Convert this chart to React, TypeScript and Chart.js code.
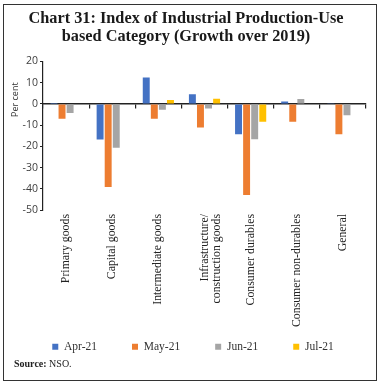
import React, { useEffect, useRef } from "react";
import { Chart, registerables } from "chart.js";

Chart.register(...registerables);

const categories: (string | string[])[] = [
  "Primary goods",
  "Capital goods",
  "Intermediate goods",
  ["Infrastructure/", "construction goods"],
  "Consumer durables",
  "Consumer non-durables",
  "General",
];
const apr21 = [0.4, -16.8, 12.5, 4.6, -14.3, 1.1, 0.1];
const may21 = [-7.0, -39.2, -7.0, -11.1, -42.9, -8.4, -14.3];
const jun21 = [-4.3, -20.6, -2.7, -2.1, -16.6, 2.3, -5.3];
const jul21 = [0, 0, 1.9, 2.4, -8.4, 0, 0];
const seriesNames = ["Apr-21", "May-21", "Jun-21", "Jul-21"];
const yTicks = [20, 10, 0, -10, -20, -30, -40, -50];
const yTitle = "Per cent";
const yTitleAt = 2; // axis value at which the y-axis title is centred

const colors = ["#4472C4", "#ED7D31", "#A5A5A5", "#FFC000"];

const LEGEND_PAD = 35;

const legendShift = {
  id: "legendShift",
  afterLayout(chart: any) {
    const l = chart.legend;
    if (l) {
      l.top += -LEGEND_PAD + 3;
      l.left += 7;
      l.right += 7;
    }
  },
};

const yTitlePlugin = {
  id: "yTitlePlugin",
  afterDraw(chart: any) {
    const y = chart.scales.y;
    const ctx = chart.ctx;
    ctx.save();
    ctx.translate(15, y.getPixelForValue(yTitleAt));
    ctx.rotate(-Math.PI / 2);
    ctx.textAlign = "center";
    ctx.textBaseline = "middle";
    ctx.fillStyle = "#333";
    ctx.font = "9px 'Open Sans', sans-serif";
    ctx.fillText(yTitle, 0, 0);
    ctx.restore();
  },
};

export default function App() {
  const ref = useRef<HTMLCanvasElement | null>(null);
  useEffect(() => {
    if (!ref.current) return;
    const data = [apr21, may21, jun21, jul21];
    const chart = new Chart(ref.current, {
      type: "bar",
      data: {
        labels: categories,
        datasets: seriesNames.map((n, i) => ({
          label: n,
          data: data[i],
          backgroundColor: colors[i],
          borderWidth: 0,
          categoryPercentage: 0.7,
          barPercentage: 0.86,
        })),
      },
      plugins: [legendShift, yTitlePlugin],
      options: {
        animation: false,
        responsive: false,
        maintainAspectRatio: false,
        layout: { padding: { left: 6, right: 16, top: 0, bottom: 22 } },
        plugins: {
          title: {
            display: true,
            text: [
              "Chart 31: Index of Industrial Production-Use",
              "based Category (Growth over 2019)",
            ],
            font: { family: "'Liberation Serif', serif", size: 16.3, weight: "bold", lineHeight: 1.15 },
            color: "#1a1a1a",
            padding: { top: 9, bottom: 15 },
          },
          legend: {
            display: true,
            position: "bottom",
            maxHeight: 24,
            labels: {
              boxWidth: 6,
              boxHeight: 6,
              padding: LEGEND_PAD,
              color: "#333",
              font: { family: "'Liberation Serif', serif", size: 11.5 },
            },
          },
          tooltip: { enabled: false },
        },
        scales: {
          x: {
            type: "category",
            offset: true,
            border: { display: false },
            grid: { display: false, drawTicks: false },
            ticks: {
              autoSkip: false,
              maxRotation: 90,
              minRotation: 90,
              padding: 4,
              color: "#222",
              font: { family: "'Liberation Serif', serif", size: 11.8, lineHeight: 1.05 },
            },
            afterFit: (s: any) => {
              s.height = 128;
            },
          },
          x2: {
            type: "category",
            labels: categories as any,
            position: { y: 0 } as any,
            offset: true,
            border: { display: true, color: "#222", width: 1.4 },
            grid: { display: true, offset: true, drawOnChartArea: false, drawTicks: true, tickLength: 4, color: "#222", lineWidth: 1.2 },
            ticks: { display: false },
          },
          y: {
            min: -50,
            max: 20,
            afterBuildTicks: (s: any) => {
              s.ticks = yTicks.map((v) => ({ value: v }));
            },
            border: { display: true, color: "#222", width: 1.2 },
            grid: { display: true, drawOnChartArea: false, drawTicks: true, tickLength: 3, color: "#222" },
            ticks: {
              padding: 2,
              color: "#404040",
              font: { family: "'Open Sans', sans-serif", size: 10.5 },
            },
            afterFit: (s: any) => {
              s.width = 37;
            },
          },
        },
      },
    });
    return () => chart.destroy();
  }, []);

  return (
    <div style={{ position: "fixed", left: 0, top: 0, width: 382, height: 384, background: "#fff" }}>
      <canvas ref={ref} width={382} height={384} style={{ position: "absolute", left: 0, top: 0, width: 382, height: 384 }} />
      <div
        style={{
          position: "absolute",
          left: 3,
          top: 4,
          width: 372,
          height: 375,
          border: "1.3px solid #333",
          pointerEvents: "none",
        }}
      />
      <div
        style={{
          position: "absolute",
          left: 14,
          top: 358,
          fontFamily: "'Liberation Serif', serif",
          fontSize: 10,
          color: "#222",
          whiteSpace: "nowrap",
        }}
      >
        <b>Source:</b> NSO.
      </div>
    </div>
  );
}
